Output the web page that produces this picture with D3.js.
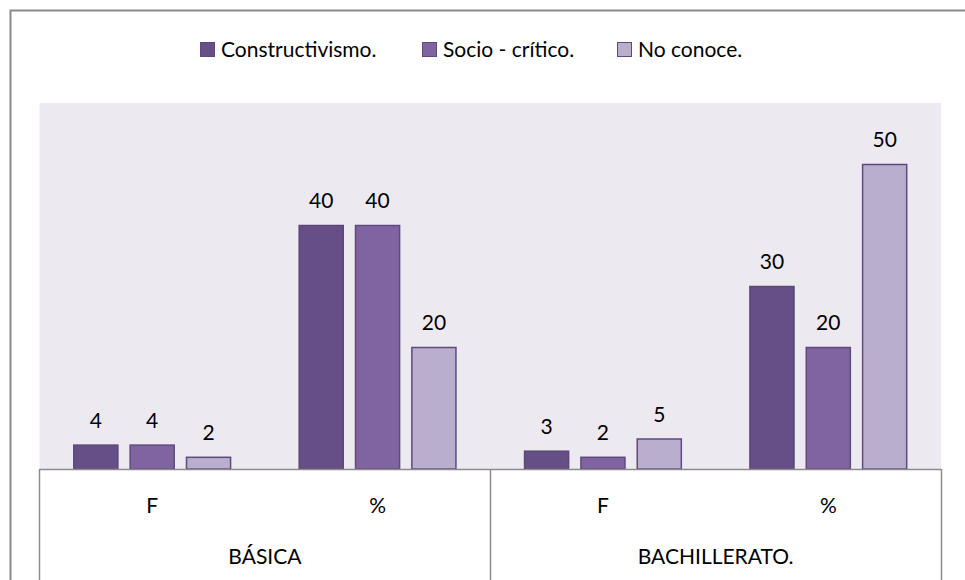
<!DOCTYPE html>
<html>
<head>
<meta charset="utf-8">
<script src="https://cdn.jsdelivr.net/npm/d3@7"></script>
<style>
  body { margin: 0; background: #fff; }
  text { font-family: Lato, "Open Sans", sans-serif; fill: #000; }
</style>
</head>
<body>
<div class="chart"></div>
<script>
// data
var levels = ["BÁSICA", "BACHILLERATO."];
var measures = ["F", "%"];
var seriesNames = ["Constructivismo.", "Socio - crítico.", "No conoce."];
var constructivismo = [4, 40, 3, 30];
var socioCritico = [4, 40, 2, 20];
var noConoce = [2, 20, 5, 50];

var colors = ["#664F86", "#8064A2", "#B9AECB"];
var strokes = ["#5B4779", "#5F4A80", "#5F4A80"];

var svgWidth = 965;
var svgHeight = 580;
var fontSize = "21px";

// plot area
var margin = { top: 103, left: 39.5 };
var width = 941 - margin.left;
var height = 469 - margin.top;

var svg = d3.select(".chart")
  .append("svg")
  .attr("width", svgWidth)
  .attr("height", svgHeight);

// outer chart frame (cut off at right and bottom)
svg.append("rect")
  .attr("x", 10.5)
  .attr("y", 10.5)
  .attr("width", 1000)
  .attr("height", 1000)
  .attr("fill", "none")
  .attr("stroke", "#8a8a8a")
  .attr("stroke-width", 2);

var chartGroup = svg.append("g")
  .attr("transform", `translate(${margin.left}, ${margin.top})`);

chartGroup.append("rect")
  .attr("width", width)
  .attr("height", height)
  .attr("fill", "#ECEAF0");

// categories: level x measure
var cats = [];
levels.forEach(function (lv) {
  measures.forEach(function (m) { cats.push(lv + "|" + m); });
});

var series = [constructivismo, socioCritico, noConoce];

var x0 = d3.scaleBand()
  .domain(cats)
  .range([0, width])
  .paddingInner(0.3)
  .paddingOuter(0.15);

var x1 = d3.scaleBand()
  .domain(d3.range(seriesNames.length))
  .range([0, x0.bandwidth()])
  .paddingInner(0.2);

var y = d3.scaleLinear()
  .domain([0, 60])
  .range([height, 0]);

var groups = chartGroup.selectAll(".cat")
  .data(cats)
  .enter()
  .append("g")
  .attr("transform", d => `translate(${x0(d)}, 0)`);

groups.selectAll("rect")
  .data((d, i) => series.map((s, j) => ({ s: j, v: s[i] })))
  .enter()
  .append("rect")
  .attr("x", d => x1(d.s) + 0.5)
  .attr("y", d => y(d.v) + 0.5)
  .attr("width", x1.bandwidth() - 1)
  .attr("height", d => height - y(d.v) - 0.5)
  .attr("fill", d => colors[d.s])
  .attr("stroke", d => strokes[d.s])
  .attr("stroke-width", 1.5);

groups.selectAll(".val")
  .data((d, i) => series.map((s, j) => ({ s: j, v: s[i] })))
  .enter()
  .append("text")
  .attr("x", d => x1(d.s) + x1.bandwidth() / 2)
  .attr("y", d => y(d.v) - 17)
  .attr("text-anchor", "middle")
  .style("font-size", fontSize)
  .text(d => d.v);

// axis with two-level category labels
var axisColor = "#8c8c8c";
chartGroup.append("line")
  .attr("x1", 0).attr("x2", width)
  .attr("y1", height + 0.5).attr("y2", height + 0.5)
  .attr("stroke", axisColor)
  .attr("stroke-width", 1.5);

var levelScale = d3.scaleBand().domain(levels).range([0, width]);
var dividers = [0].concat(levels.map(l => levelScale(l) + levelScale.bandwidth()));
chartGroup.selectAll(".div")
  .data(dividers)
  .enter()
  .append("line")
  .attr("x1", d => Math.round(d))
  .attr("x2", d => Math.round(d))
  .attr("y1", height)
  .attr("y2", svgHeight)
  .attr("stroke", axisColor)
  .attr("stroke-width", 1.5);

chartGroup.selectAll(".cl")
  .data(cats)
  .enter()
  .append("text")
  .attr("x", d => x0(d) + x0.bandwidth() / 2)
  .attr("y", height + 44)
  .attr("text-anchor", "middle")
  .style("font-size", fontSize)
  .text(d => d.split("|")[1]);

chartGroup.selectAll(".ll")
  .data(levels)
  .enter()
  .append("text")
  .attr("x", d => levelScale(d) + levelScale.bandwidth() / 2)
  .attr("y", height + 95)
  .attr("text-anchor", "middle")
  .style("font-size", fontSize)
  .text(d => d);

// legend
var legendX = [200, 422, 617];
var legend = svg.selectAll(".leg")
  .data(seriesNames)
  .enter()
  .append("g")
  .attr("transform", (d, i) => `translate(${legendX[i]}, 42)`);

legend.append("rect")
  .attr("x", 0.5).attr("y", 0.5)
  .attr("width", 14).attr("height", 14)
  .attr("fill", (d, i) => colors[i])
  .attr("stroke", (d, i) => strokes[i]);

legend.append("text")
  .attr("x", 21)
  .attr("y", 15)
  .style("font-size", fontSize)
  .text(d => d);
</script>
</body>
</html>
